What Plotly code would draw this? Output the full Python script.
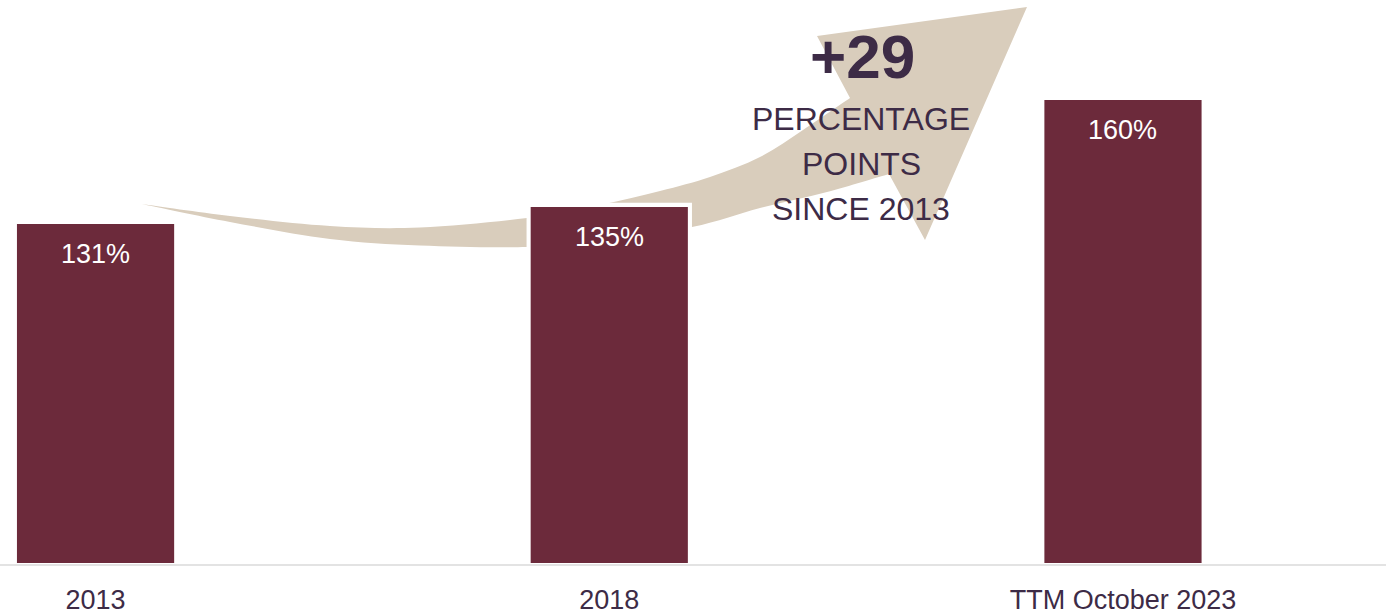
import plotly.graph_objects as go

# ---- data ----
categories = ["2013", "2018", "TTM October 2023"]
values = [131, 135, 160]
value_labels = ["131%", "135%", "160%"]
headline = "+29"
sub_lines = ["PERCENTAGE", "POINTS", "SINCE 2013"]

W, H = 1386, 616
M_B = 53
PLOT_H = H - M_B

BAR_COLOR = "#6c2a3b"
ARROW_COLOR = "#d9cdbc"
TEXT_COLOR = "#3d2b46"
FONT = "Liberation Sans, Arial, sans-serif"


def px(x, y):
    return x / W, (PLOT_H - y) / PLOT_H


# decorative arrow outline (pixel guide points -> paper coords)
upper = [(142, 204), (230, 216), (330, 226), (420, 227.5), (527, 218), (600, 205),
         (660, 191), (710, 177), (760, 157), (803, 130), (850, 98)]
head = [(817, 36), (1027, 7), (925, 240), (889, 174)]
lower = [(889, 174), (827, 192), (760, 208), (692, 227), (600, 240), (527, 247),
         (420, 245.5), (330, 239), (230, 222), (142, 204)]


def catmull(points):
    segs = []
    n = len(points)
    for i in range(n - 1):
        p0 = points[i - 1] if i > 0 else points[i]
        p1 = points[i]
        p2 = points[i + 1]
        p3 = points[i + 2] if i + 2 < n else points[i + 1]
        c1 = (p1[0] + (p2[0] - p0[0]) / 6, p1[1] + (p2[1] - p0[1]) / 6)
        c2 = (p2[0] - (p3[0] - p1[0]) / 6, p2[1] - (p3[1] - p1[1]) / 6)
        segs.append((c1, c2, p2))
    return segs


def fmt(p):
    x, y = px(*p)
    return f"{x:.5f},{y:.5f}"


path = "M " + fmt(upper[0])
for c1, c2, p2 in catmull(upper):
    path += f" C {fmt(c1)} {fmt(c2)} {fmt(p2)}"
for p in head:
    path += f" L {fmt(p)}"
for c1, c2, p2 in catmull(lower):
    path += f" C {fmt(c1)} {fmt(c2)} {fmt(p2)}"
path += " Z"

BAR_W = 0.306
fig = go.Figure()
fig.add_trace(go.Bar(
    x=categories, y=values, width=BAR_W,
    marker=dict(color=BAR_COLOR, line=dict(width=0)),
    hoverinfo="skip",
))

shapes = [
    dict(type="path", path=path, xref="paper", yref="paper",
         fillcolor=ARROW_COLOR, line=dict(width=0), layer="below"),
    # white halo behind the middle bar
    dict(type="rect", xref="x", yref="y",
         x0=1 - BAR_W / 2 - 0.008, x1=1 + BAR_W / 2 + 0.008,
         y0=52, y1=values[1] + 1.0,
         fillcolor="white", line=dict(width=0), layer="below"),
    dict(type="line", xref="paper", yref="paper", x0=0, x1=1,
         y0=-2 / PLOT_H, y1=-2 / PLOT_H,
         line=dict(color="#e3e3e3", width=2), layer="above"),
]

annotations = []
for i, (v, t) in enumerate(zip(values, value_labels)):
    annotations.append(dict(x=i, y=v, xref="x", yref="y", text=t, showarrow=False,
                            yanchor="middle", yshift=-30,
                            font=dict(family=FONT, size=27, color="white")))

hx, hy = px(862, 56)
annotations.append(dict(x=hx, y=hy, xref="paper", yref="paper", text=f"<b>{headline}</b>",
                        showarrow=False, xanchor="center", yanchor="middle",
                        font=dict(family=FONT, size=62, color=TEXT_COLOR)))
for line_text, cy in zip(sub_lines, [119, 164, 209]):
    lx, ly = px(861, cy)
    annotations.append(dict(x=lx, y=ly, xref="paper", yref="paper", text=line_text,
                            showarrow=False, xanchor="center", yanchor="middle",
                            font=dict(family=FONT, size=32, color=TEXT_COLOR)))

fig.update_layout(
    width=W, height=H,
    margin=dict(l=0, r=0, t=0, b=M_B, pad=0),
    paper_bgcolor="white", plot_bgcolor="white",
    showlegend=False,
    shapes=shapes,
    annotations=annotations,
    xaxis=dict(type="category", range=[-0.186, 2.512], showgrid=False, zeroline=False,
               showline=False, ticks="outside", ticklen=13, tickcolor="rgba(0,0,0,0)",
               automargin=False,
               tickfont=dict(family=FONT, size=27, color=TEXT_COLOR), fixedrange=True),
    yaxis=dict(range=[51.72, 183.4], showgrid=False, zeroline=False, showline=False,
               showticklabels=False, ticks="", automargin=False, fixedrange=True),
)

fig.write_html("out.html")
